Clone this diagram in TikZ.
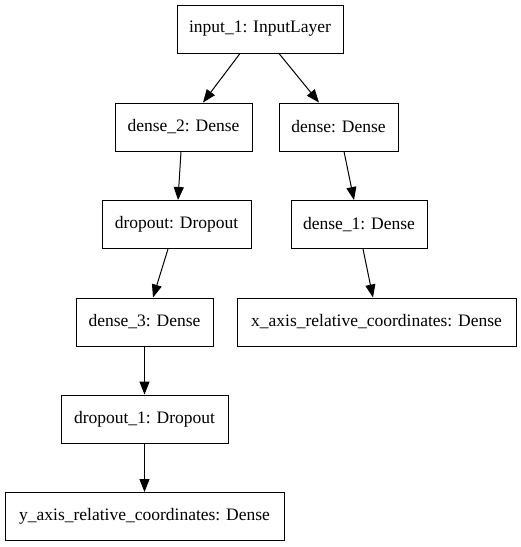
\documentclass[tikz,border=0pt]{standalone}
\usepackage{fontspec}
\setmainfont{Liberation Serif}
\usetikzlibrary{arrows.meta}
\begin{document}
\begin{tikzpicture}[x=1pt,y=-1pt,
  layer/.style={draw, line width=0.95pt, minimum height=48pt, inner sep=0pt, font=\fontsize{17.5pt}{20pt}\selectfont},
  arr/.style={line width=1pt, -{Triangle[length=13pt,width=10pt]}}]
\useasboundingbox (0,0) rectangle (521,547);
\node[layer, minimum width=166pt] (in) at (260,29) {input\_1: InputLayer};
\node[layer, minimum width=137pt] (d2) at (183.5,127) {dense\_2: Dense};
\node[layer, minimum width=119pt] (d) at (338.5,127) {dense: Dense};
\node[layer, minimum width=149pt] (drop) at (176.5,224.5) {dropout: Dropout};
\node[layer, minimum width=136pt] (d1) at (359,224.5) {dense\_1: Dense};
\node[layer, minimum width=137pt] (d3) at (144.5,322) {dense\_3: Dense};
\node[layer, minimum width=279pt] (x) at (376.5,322) {x\_axis\_relative\_coordinates: Dense};
\node[layer, minimum width=167pt] (drop1) at (144.5,419) {dropout\_1: Dropout};
\node[layer, minimum width=279pt] (y) at (144.5,516.5) {y\_axis\_relative\_coordinates: Dense};
\draw[arr] ([xshift=-20pt]in.south) -- ([xshift=19.5pt]d2.north);
\draw[arr] ([xshift=19pt]in.south) -- ([xshift=-19.5pt]d.north);
\draw[arr] ([xshift=-2.5pt]d2.south) -- ([xshift=1.5pt]drop.north);
\draw[arr] ([xshift=-8.5pt]drop.south) -- ([xshift=8.5pt]d3.north);
\draw[arr] (d3.south) -- (drop1.north);
\draw[arr] (drop1.south) -- (y.north);
\draw[arr] ([xshift=5.5pt]d.south) -- ([xshift=-5pt]d1.north);
\draw[arr] ([xshift=4pt]d1.south) -- ([xshift=-3.5pt]x.north);
\end{tikzpicture}
\end{document}
